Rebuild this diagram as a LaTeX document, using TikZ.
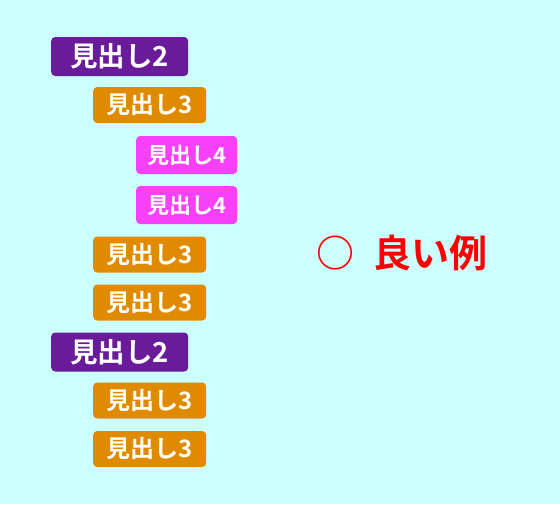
\documentclass[tikz,border=0pt]{standalone}
\usepackage{fontspec}
\newfontfamily\cjk{Noto Sans CJK JP}[BoldFont={Noto Sans CJK JP Bold}]
\definecolor{bg}{HTML}{CCFFFF}
\definecolor{hpurple}{HTML}{6A1B9A}
\definecolor{horange}{HTML}{E08A00}
\definecolor{hmagenta}{HTML}{F840F8}
\definecolor{hred}{HTML}{FF0000}
\tikzset{
  hbox/.style={anchor=west, rounded corners=4pt, text=white, inner sep=0pt, font=\cjk\bfseries},
  htwo/.style={hbox, fill=hpurple, minimum width=137pt, minimum height=39pt, font=\cjk\bfseries\fontsize{27.5}{27.5}\selectfont},
  hthree/.style={hbox, fill=horange, minimum width=113pt, minimum height=36pt, font=\cjk\bfseries\fontsize{24}{24}\selectfont},
  hfour/.style={hbox, fill=hmagenta, minimum width=101pt, minimum height=38pt, font=\cjk\bfseries\fontsize{22}{22}\selectfont},
}
\begin{document}
\begin{tikzpicture}[x=1pt,y=-1pt]
\fill[bg] (0,0) rectangle (560,504);
\useasboundingbox (0,0) rectangle (560,504);
\node[htwo] (a1) at (51,56.5) {見出し2};
\node[hthree] (a2) at (93,105) {見出し3};
\node[hfour] (a3) at (136,155) {見出し4};
\node[hfour] (a4) at (136,205) {見出し4};
\node[hthree] (a5) at (93,254.5) {見出し3};
\node[hthree] (a6) at (93,302.5) {見出し3};
\node[htwo] (a7) at (51,352) {見出し2};
\node[hthree] (a8) at (93,400.5) {見出し3};
\node[hthree] (a9) at (93,449) {見出し3};
\node[anchor=west, inner sep=0pt, text=hred, font=\cjk\bfseries\fontsize{38}{38}\selectfont] (ex) at (316,253) {○\hspace{19pt}良い例};
\end{tikzpicture}
\end{document}
